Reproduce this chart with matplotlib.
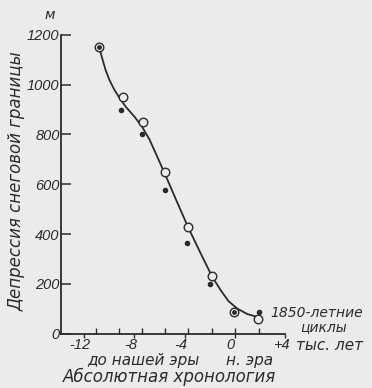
import matplotlib
matplotlib.use("Agg")
import matplotlib.pyplot as plt
from matplotlib.ticker import FixedLocator
from matplotlib.transforms import ScaledTranslation

# ---------------------------------------------------------
# ДАННЫЕ (тыс. лет, м)
# ---------------------------------------------------------
curve_x = [-10.8, -10.6, -10.3, -10.0, -9.6, -9.2, -8.7, -8.0, -7.4, -6.8,
           -6.2, -5.6, -4.7, -3.7, -2.7, -1.8, -1.1, -0.5, 0.2, 1.0, 1.85]
curve_y = [1150, 1112, 1060, 1020, 980, 948, 912, 872, 832, 780,
           713, 645, 540, 425, 320, 228, 172, 130, 100, 78, 66]

open_x = [-8.9, -7.3, -5.6, -3.75, -1.8, 1.85]
open_y = [950, 850, 650, 430, 230, 58]

dot_x = [-9.1, -7.4, -5.6, -3.8, -2.0, 1.9]
dot_y = [900, 800, 575, 365, 200, 85]

both_x = [-10.8, -0.05]
both_y = [1150, 85]

cycle_ticks = [-11.1, -9.2, -7.4, -5.6, -3.7, -1.85, 0.05, 1.9, 4.0]
year_ticks = [-12, -8, -4, 0, 4]
year_labels = ["-12", "-8", "-4", "0", "+4"]
y_ticks = [0, 200, 400, 600, 800, 1000, 1200]

BG = "#ebebeb"
INK = "#2b2b2b"

W, H = 372, 388
fig = plt.figure(figsize=(W / 100, H / 100), dpi=100, facecolor=BG)
ax = fig.add_axes([61 / W, 1 - 333.5 / H, 224 / W, 298.5 / H], facecolor=BG)


def px(x, y):
    return x / W, 1 - y / H


ax.plot(curve_x, curve_y, color=INK, lw=1.3, zorder=2)
ax.scatter(open_x, open_y, s=38, facecolor=BG, edgecolor=INK, lw=1.0, zorder=3)
ax.scatter(dot_x, dot_y, s=9, color=INK, zorder=3)
ax.scatter(both_x, both_y, s=38, facecolor=BG, edgecolor=INK, lw=1.0, zorder=3)
ax.scatter(both_x, both_y, s=6, color=INK, zorder=4)

ax.set_xlim(-13.85, 4.0)
ax.set_ylim(0, 1200)

for s in ["top", "right"]:
    ax.spines[s].set_visible(False)
for s in ["left", "bottom"]:
    ax.spines[s].set_color(INK)
    ax.spines[s].set_linewidth(1.3)

tick_font = dict(family="Liberation Sans", style="italic", fontsize=10.5,
                 color=INK)

ax.set_yticks(y_ticks)
ax.set_yticklabels([str(v) for v in y_ticks], **tick_font)
ax.tick_params(axis="y", direction="in", length=7, width=1.1, color=INK, pad=1)

ax.set_xticks(year_ticks)
ax.set_xticklabels(year_labels, **tick_font)
ax.xaxis.set_minor_locator(FixedLocator(cycle_ticks))
ax.tick_params(axis="x", which="major", direction="out", length=3, width=1.0,
               color=INK, pad=0)
ax.tick_params(axis="x", which="minor", direction="in", length=4, width=1.0,
               color=INK)

# подписи по оси x в оригинале чуть левее штрихов
shift = ScaledTranslation(-4 / 100, 0, fig.dpi_scale_trans)
for lab in ax.get_xticklabels():
    lab.set_transform(lab.get_transform() + shift)

txt = dict(family="DejaVu Sans", style="italic", color=INK)
fig.text(*px(17, 181), "Депрессия снеговой границы", rotation=90,
         ha="center", va="center", fontsize=12, **txt)
fig.text(*px(50, 15), "м", ha="center", va="center", fontsize=10, **txt)
fig.text(*px(296, 345), "тыс. лет", ha="left", va="center", fontsize=11, **txt)
fig.text(*px(317, 313), "1850-летние", ha="center", va="center", fontsize=10, **txt)
fig.text(*px(324, 327), "циклы", ha="center", va="center", fontsize=10, **txt)
fig.text(*px(143, 361), "до нашей эры", ha="center", va="center", fontsize=11, **txt)
fig.text(*px(250, 361), "н. эра", ha="center", va="center", fontsize=11, **txt)
fig.text(*px(170, 377), "Абсолютная хронология", ha="center", va="center",
         fontsize=12, **txt)

fig.savefig("out.png", dpi=100, facecolor=BG)
